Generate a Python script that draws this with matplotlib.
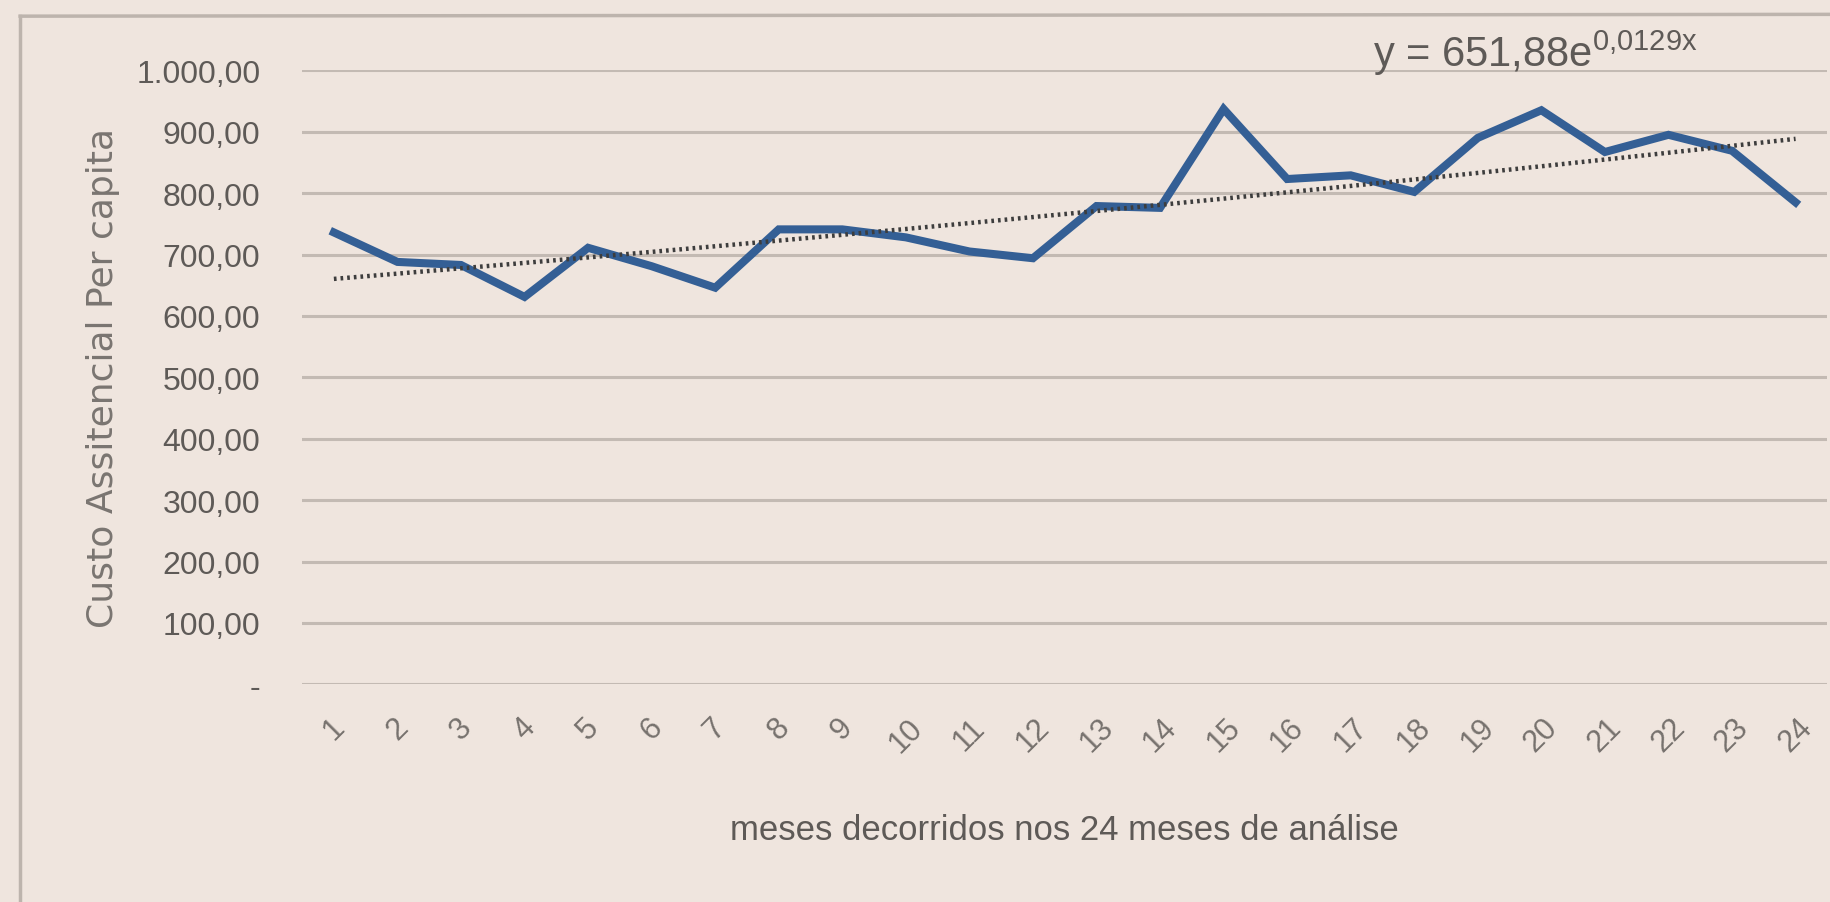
import numpy as np
import matplotlib.pyplot as plt
from matplotlib.lines import Line2D

# data
meses = list(range(1, 25))
custo = [736, 688, 683, 631, 711, 681, 646, 741, 741, 728, 705, 694,
         779, 776, 937, 823, 829, 802, 890, 935, 867, 895, 869, 785]
y_ticks = [0, 100, 200, 300, 400, 500, 600, 700, 800, 900, 1000]
y_labels = ['-', '100,00', '200,00', '300,00', '400,00', '500,00',
            '600,00', '700,00', '800,00', '900,00', '1.000,00']
# exponential trendline shown on the chart
trend_a = 651.88
trend_b = 0.0129

bg = '#efe5de'
grey_txt = '#5e5a57'
narrow = ['Liberation Sans Narrow', 'Liberation Sans', 'DejaVu Sans']

fig = plt.figure(figsize=(18.31, 9.03), dpi=100)
fig.patch.set_facecolor(bg)
ax = fig.add_axes([0.165, 0.241, 0.833, 0.680])
ax.set_facecolor(bg)

x = np.array(meses)
trend = trend_a * np.exp(trend_b * x)

for v in y_ticks:
    ax.axhline(v, color='#c3bab3', lw=2.2, zorder=1)

ax.plot(x, trend, color='#3d3d3d', lw=3.2, linestyle=(0, (0.6, 0.9)),
        zorder=3)
ax.plot(x, custo, color='#345f95', lw=5.8, solid_joinstyle='miter', zorder=2)

ax.set_xlim(0.5, 24.5)
ax.set_ylim(0, 1000)
ax.set_yticks(y_ticks)
ax.set_yticklabels(y_labels, family=narrow, fontsize=23, color=grey_txt)
ax.set_xticks(meses)
ax.set_xticklabels([str(m) for m in meses], rotation=45, family=narrow,
                   fontsize=22, color='#77726e', ha='center', va='top')
ax.tick_params(length=0, pad=20)
ax.tick_params(axis='y', pad=30)
for s in ax.spines.values():
    s.set_visible(False)

ax.set_ylabel('Custo Assitencial Per capita', fontsize=26, color='#7a7571',
              family=['DejaVu Sans'], labelpad=12)
ax.set_xlabel('meses decorridos nos 24 meses de análise', fontsize=25,
              color=grey_txt, family=narrow, labelpad=40)

ax.text(0.702, 1.03, r'y = 651,88e$^{\mathregular{0{,}0129x}}$',
        transform=ax.transAxes, fontsize=30, color=grey_txt, family=narrow,
        ha='left', va='center')

# outer chart frame
fig.add_artist(Line2D([0.011, 0.011], [0.0, 0.981], color='#bdb4ad', lw=2.5,
                      transform=fig.transFigure))
fig.add_artist(Line2D([0.011, 1.0], [0.981, 0.983], color='#bdb4ad', lw=2.5,
                      transform=fig.transFigure))

plt.savefig('out.png', dpi=100, facecolor=bg)
